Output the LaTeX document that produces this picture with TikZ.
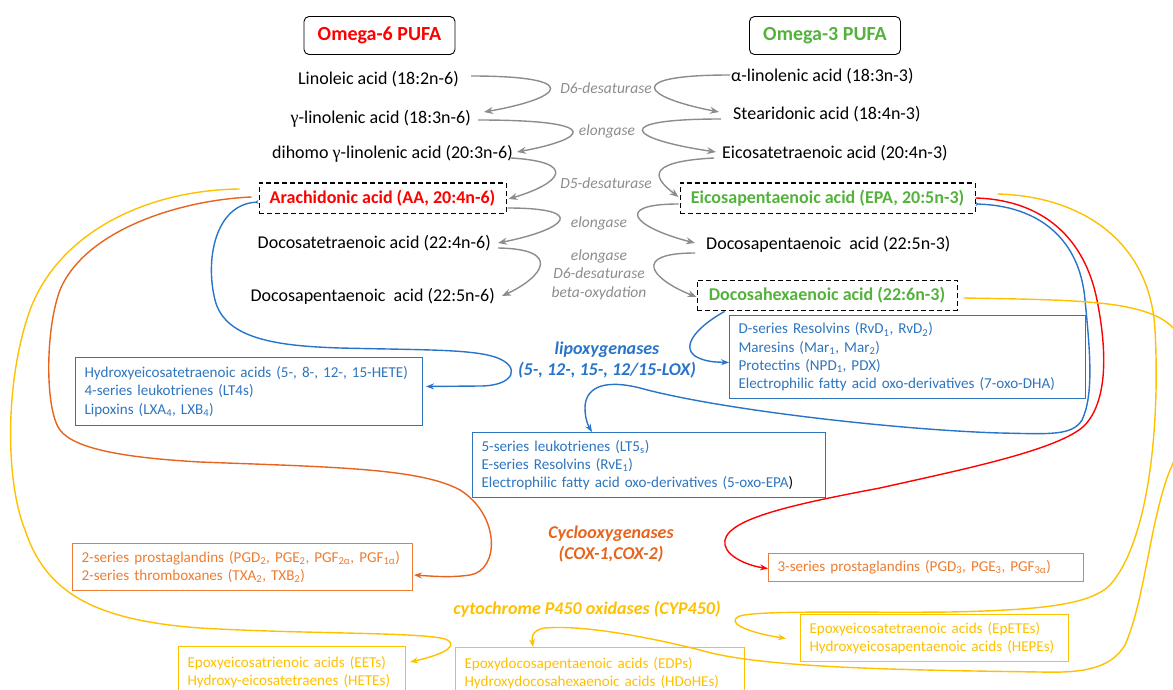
\documentclass[tikz,border=0pt]{standalone}
\usepackage{fontspec}
\setmainfont{Carlito}
\newfontfamily\serifg{Liberation Serif}
\usetikzlibrary{arrows.meta,calc}
\definecolor{cred}{RGB}{255,0,0}
\definecolor{cgreen}{RGB}{84,178,60}
\definecolor{cblue}{RGB}{40,116,200}
\definecolor{cbluet}{RGB}{46,117,190}
\definecolor{corange}{RGB}{230,100,30}
\definecolor{corangel}{RGB}{237,125,49}
\definecolor{cyel}{RGB}{255,192,0}
\definecolor{cgray}{RGB}{140,140,140}
\begin{document}
\begin{tikzpicture}[x=1pt,y=-1pt,
  cmp/.style={font=\fontsize{18}{21}\selectfont, inner sep=0pt},
  lbl/.style={font=\fontsize{15.5}{18.5}\selectfont\itshape, text=cgray, align=center},
  ttl/.style={draw, rounded corners=5pt, line width=0.9pt, font=\fontsize{20}{24}\selectfont\bfseries, minimum width=151pt, minimum height=38pt},
  dbox/.style={draw, dash pattern=on 5pt off 3pt, line width=1pt, font=\fontsize{18}{21}\selectfont\bfseries, inner sep=0pt, minimum height=30pt},
  lst/.style={draw, line width=1pt, anchor=north west, align=left, font=\fontsize{15.1}{18.3}\selectfont, inner xsep=9pt, inner ysep=0pt},
  enz/.style={font=\fontsize{18}{21.5}\selectfont\bfseries\itshape, align=center},
  garr/.style={cgray, line width=1.4pt, -{Stealth[length=9pt,width=7pt]}},
  carr/.style={line width=1.4pt, -{Stealth[length=8pt,width=6pt]}},
  sarr/.style={line width=1.4pt, {Stealth[length=4pt,width=4pt,reversed]}-{Stealth[length=8pt,width=6pt]}},
]
\useasboundingbox (0,0) rectangle (1173,690);
\clip (0,0) rectangle (1173,690);

% titles
\node[ttl, text=cred] (o6) at (379.5,35.5) {Omega-6 PUFA};
\node[ttl, text=cgreen] (o3) at (825,35.5) {Omega-3 PUFA};

% omega-6 column
\node[cmp, anchor=east] (lin) at (459,79) {Linoleic acid (18:2n-6)};
\node[cmp, anchor=east] (glin) at (471,119) {{\serifg γ}-linolenic acid (18:3n-6)};
\node[cmp, anchor=east] (dgla) at (513,154) {dihomo {\serifg γ}-linolenic acid (20:3n-6)};
\node[dbox, text=cred, minimum width=247pt] (aa) at (382.5,198) {Arachidonic acid (AA, 20:4n-6)};
\node[cmp, anchor=east] (dta) at (491,243) {Docosatetraenoic acid (22:4n-6)};
\node[cmp, anchor=east] (dpa6) at (495,296) {Docosapentaenoic\ \ acid (22:5n-6)};

% omega-3 column
\node[cmp, anchor=west] (ala) at (731,76) {α-linolenic acid (18:3n-3)};
\node[cmp, anchor=west] (sda) at (733,114) {Stearidonic acid (18:4n-3)};
\node[cmp, anchor=west] (eta) at (722,153) {Eicosatetraenoic acid (20:4n-3)};
\node[dbox, text=cgreen, minimum width=295pt] (epa) at (827.5,198) {Eicosapentaenoic acid (EPA, 20:5n-3)};
\node[cmp, anchor=west] (dpa3) at (706,244) {Docosapentaenoic\ \ acid (22:5n-3)};
\node[dbox, text=cgreen, minimum width=260pt] (dha) at (827,295) {Docosahexaenoic acid (22:6n-3)};

% enzyme labels (grey)
\node[lbl] (l1) at (606,88) {D6-desaturase};
\node[lbl] (l2) at (607,131) {elongase};
\node[lbl] (l3) at (606,183) {D5-desaturase};
\node[lbl] (l4) at (599,223) {elongase};
\node[lbl] (l5) at (599,274.5) {elongase\\D6-desaturase\\beta-oxydation};

% grey S arrows, left
\draw[garr] ($(lin.east)+(12,-3)$) .. controls (584,76) and (564,98) .. ($(glin.east)+(13,-7)$);
\draw[garr] ($(glin.east)+(7,1)$) .. controls (607,120) and (587,139) .. ($(dgla.east)+(4,-2)$);
\draw[garr] ($(dgla.east)+(-2,4)$) .. controls (578,162) and (562,183) .. ($(aa.east)+(2,1)$);
\draw[garr] ($(aa.east)+(1,10)$) .. controls (588,208) and (568,229) .. ($(dta.east)+(7,0)$);
\draw[garr] ($(dta.east)+(7,5)$) .. controls (563,249) and (543,277) .. ($(dpa6.east)+(7,0)$);
% grey S arrows, right
\draw[garr] ($(ala.west)+(-1,-1)$) .. controls (622,75) and (642,97) .. ($(sda.west)+(-14,-2)$);
\draw[garr] ($(sda.west)+(-12,5)$) .. controls (608,119) and (628,139) .. ($(eta.west)+(-6,-1)$);
\draw[garr] ($(eta.west)+(-8,5)$) .. controls (638,162) and (658,181) .. ($(epa.west)+(-1,-1)$);
\draw[garr] ($(epa.west)+(-1,6)$) .. controls (613,204) and (633,227) .. ($(dpa3.west)+(-11,-1)$);
\draw[garr] ($(dpa3.west)+(-11,9)$) .. controls (631,253) and (651,279) .. ($(dha.west)+(0,2)$);

% lipoxygenase products
\node[lst, draw=cbluet, text=cbluet, text width=329pt, minimum height=68pt] (hete) at (75,357)
  {Hydroxyeicosatetraenoic acids (5-, 8-, 12-, 15-HETE)\\4-series leukotrienes (LT4s)\\Lipoxins (LXA\textsubscript{4}, LXB\textsubscript{4})};
\node[lst, draw=cbluet, text=cbluet, text width=338pt, minimum height=83pt] (dser) at (729,315)
  {D-series Resolvins (RvD\textsubscript{1}, RvD\textsubscript{2})\\Maresins (Mar\textsubscript{1}, Mar\textsubscript{2})\\Protectins (NPD\textsubscript{1}, PDX)\\Electrophilic fatty acid oxo-derivatives (7-oxo-DHA)};
\node[lst, draw=cbluet, text=cbluet, text width=335pt, minimum height=65pt] (fser) at (472,432)
  {5-series leukotrienes\ (LT5\textsubscript{s})\\E-series Resolvins (RvE\textsubscript{1})\\Electrophilic fatty acid oxo-derivatives (5-oxo-EPA{\color{black})}};
\node[enz, text=cblue] (lox) at (607,360) {lipoxygenases\\(5-, 12-, 15-, 12/15-LOX)};

% cyclooxygenase products
\node[lst, draw=corangel, text=corangel, text width=322pt, minimum height=47pt] (twos) at (72,543)
  {2-series prostaglandins (PGD\textsubscript{2}, PGE\textsubscript{2}, PGF\textsubscript{2α}, PGF\textsubscript{1α})\\2-series thromboxanes (TXA\textsubscript{2}, TXB\textsubscript{2})};
\node[lst, draw=corangel, text=corangel, text width=297pt, minimum height=28pt] (tser) at (768,553)
  {3-series prostaglandins (PGD\textsubscript{3}, PGE\textsubscript{3}, PGF\textsubscript{3α})};
\node[enz, text=corange] (cox) at (611,544) {Cyclooxygenases\\(COX-1,COX-2)};

% CYP450 products
\node[lst, draw=cyel, text=cyel, text width=250pt, minimum height=47pt] (epet) at (800,614)
  {Epoxyeicosatetraenoic acids (EpETEs)\\Hydroxyeicosapentaenoic acids (HEPEs)};
\node[lst, draw=cyel, text=cyel, text width=209pt, minimum height=52pt] (eets) at (178,646)
  {Epoxyeicosatrienoic acids (EETs)\\Hydroxy-eicosatetraenes (HETEs)};
\node[lst, draw=cyel, text=cyel, text width=271pt, minimum height=52pt] (edp) at (455,647)
  {Epoxydocosapentaenoic acids (EDPs)\\Hydroxydocosahexaenoic acids (HDoHEs)};
\node[enz, text=cyel] (cyp) at (587,609) {cytochrome P450 oxidases (CYP450)};

% blue connectors
\draw[sarr, cblue] ($(aa.west)+(0,4)$) .. controls (215,205) and (205,260) .. (215,300)
  .. controls (225,340) and (280,346) .. (340,348)
  .. controls (420,350) and (470,349) .. (495,357)
  .. controls (522,366) and (515,386) .. (480,386)
  -- ($(hete.east)+(3,-5)$);
\draw[carr, cblue] ($(dha.south west)+(28,1)$) .. controls (700,325) and (680,345) .. (695,356)
  .. controls (705,362) and (715,362) .. ($(dser.west)+(0,5.5)$);
\draw[sarr, cblue] ($(epa.east)+(0,6)$) .. controls (1040,206) and (1080,240) .. (1085,300)
  .. controls (1090,350) and (1094,395) .. (1082,420)
  .. controls (1072,436) and (1050,434) .. (1000,433)
  .. controls (900,430) and (720,410) .. (640,388)
  .. controls (600,378) and (585,390) .. (585,408)
  .. controls (585,420) and (589,427) .. (fser.north west -| 592,0);

% red connector
\draw[carr, cred] (epa.east) .. controls (1045,200) and (1085,240) .. (1097,300)
  .. controls (1107,350) and (1108,400) .. (1085,425)
  .. controls (1060,450) and (960,470) .. (880,488)
  .. controls (790,505) and (720,520) .. (725,545)
  .. controls (728,558) and (750,566) .. ($(tser.west)+(0,1)$);

% orange connector
\draw[carr, corange] ($(aa.west)+(-7,-1)$) .. controls (180,200) and (85,230) .. (60,290)
  .. controls (45,330) and (45,410) .. (60,430)
  .. controls (75,450) and (130,458) .. (200,462)
  .. controls (330,467) and (420,468) .. (460,490)
  .. controls (500,515) and (500,570) .. (470,575)
  .. controls (450,578) and (430,576) .. ($(twos.east)+(1,8)$);

% yellow connectors
\draw[carr, cyel] ($(aa.west)+(-19,-9)$) .. controls (150,190) and (60,230) .. (30,310)
  .. controls (5,380) and (5,480) .. (25,530)
  .. controls (45,590) and (90,620) .. (200,628)
  .. controls (300,634) and (420,632) .. (445,639)
  .. controls (458,644) and (450,653) .. ($(eets.north east)+(4,16)$);
\draw[carr, cyel] ($(epa.east)+(22,-4)$) .. controls (1080,196) and (1150,240) .. (1155,330)
  .. controls (1160,420) and (1150,540) .. (1110,585)
  .. controls (1090,605) and (1040,610) .. (950,612)
  .. controls (860,613) and (760,610) .. (740,616)
  .. controls (725,622) and (745,632) .. ($(epet.west)+(-14,0.5)$);
\draw[carr, cyel] ($(dha.east)+(6,3)$) .. controls (1080,300) and (1150,300) .. (1175,330)
  .. controls (1195,360) and (1190,430) .. (1170,470)
  .. controls (1150,520) and (1145,600) .. (1125,645)
  .. controls (1110,670) and (1080,673) .. (1040,672)
  .. controls (900,670) and (760,668) .. (700,650)
  .. controls (640,635) and (580,625) .. (545,628)
  .. controls (530,630) and (532,640) .. (edp.north west -| 533,0);
\end{tikzpicture}
\end{document}
